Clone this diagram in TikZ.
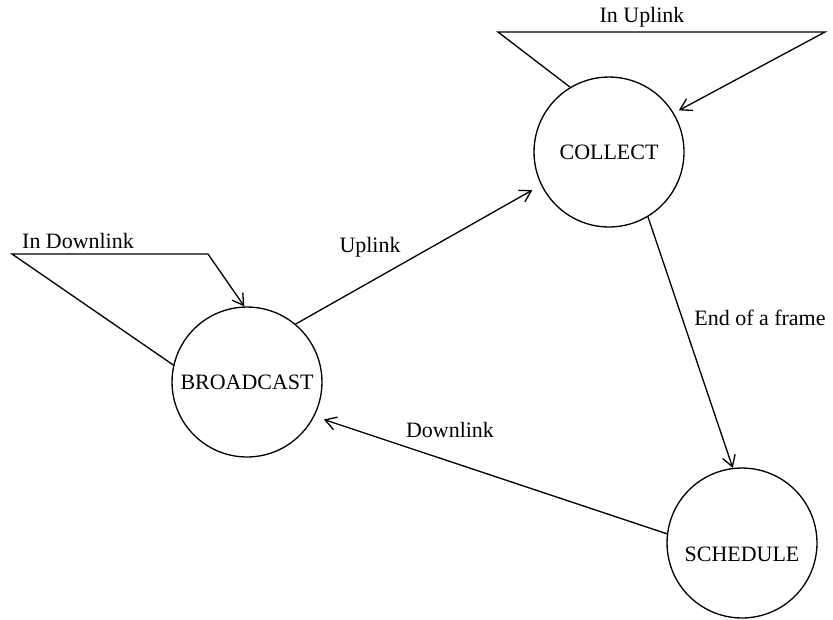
\documentclass[tikz,border=0pt]{standalone}
\usepackage{fontspec}
\setmainfont{Liberation Serif}
\usepackage{tikz}
\usetikzlibrary{arrows, arrows.meta}
\usetikzlibrary{shapes.geometric, positioning, calc}

\begin{document}
\begin{tikzpicture}[x=0.016cm, y=-0.016cm, line width=0.6pt,
    >={Straight Barb[length=5pt, width=6pt]},
    state/.style={draw, circle, inner sep=0pt, minimum size=2.4cm},
    lbl/.style={inner sep=1pt}]
      \useasboundingbox (0, 0) rectangle (833, 619);

      \node[state] (bcast) at (247, 382) {BROADCAST};
      \node[state] (collect) at (609, 152) {COLLECT};
      \node[state, text height=17pt, text depth=0pt] (sched) at (742, 543) {SCHEDULE};

      \coordinate (dnl) at (12, 254);
      \coordinate (dnr) at (208, 254);
      \coordinate (upl) at (498, 32);
      \coordinate (upr) at (825, 32);

      \draw[->] (bcast.167) -- (dnl) -- (dnr) -- (bcast.92);
      \draw[->] (collect.121) -- (upl) -- (upr) -- ($(collect.31)!2.6pt!(upr)$);

      \draw[->, shorten >=1.6mm] (bcast.50) -- (collect.206);
      \draw[->] (collect.-59) -- (sched.97);
      \draw[->, shorten >=1.6mm] (sched.173) -- (bcast.-27);

      \node[lbl] (indown) at (78, 241) {In Downlink};
      \node[lbl] (inup) at (642, 17) {In Uplink};
      \node[lbl] (uplink) at (370, 247) {Uplink};
      \node[lbl] (endframe) at (760, 318) {End of a frame};
      \node[lbl] (downlink) at (450, 430) {Downlink};
    \end{tikzpicture}
\end{document}
